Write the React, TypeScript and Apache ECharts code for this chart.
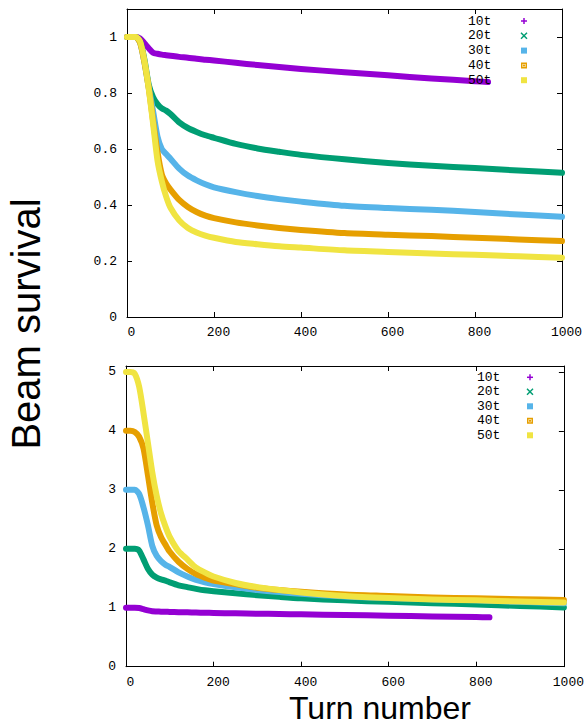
import React, { useEffect, useRef } from "react";
import * as echarts from "echarts";

const names = ["10t", "20t", "30t", "40t", "50t"];
const colors = ["#9400D3", "#009E73", "#56B4E9", "#E69F00", "#F0E442"];

const turns = [0, 10, 20, 30, 40, 50, 60, 70, 80, 90, 100, 120, 140, 160, 180, 200, 250, 300, 350, 400, 500, 600, 700, 800, 900, 1000];
const turns10t = [0, 10, 20, 30, 40, 50, 60, 70, 80, 90, 100, 120, 140, 160, 180, 200, 250, 300, 350, 400, 500, 600, 700, 800, 830];

// Top panel: normalised beam survival
const top10t = [1, 1, 1, 0.995, 0.978, 0.96, 0.944, 0.94, 0.937, 0.935, 0.933, 0.929, 0.926, 0.922, 0.919, 0.916, 0.908, 0.9, 0.893, 0.886, 0.874, 0.863, 0.852, 0.842, 0.839];
const top20t = [1, 1, 1, 0.985, 0.92, 0.83, 0.785, 0.76, 0.745, 0.737, 0.725, 0.695, 0.675, 0.661, 0.649, 0.64, 0.618, 0.602, 0.59, 0.579, 0.563, 0.55, 0.54, 0.532, 0.523, 0.515];
const top30t = [1, 1, 1, 0.98, 0.91, 0.82, 0.735, 0.645, 0.6, 0.582, 0.565, 0.53, 0.505, 0.488, 0.474, 0.463, 0.446, 0.432, 0.421, 0.412, 0.397, 0.389, 0.383, 0.375, 0.366, 0.358];
const top40t = [1, 1, 1, 0.98, 0.91, 0.818, 0.7, 0.59, 0.51, 0.477, 0.455, 0.418, 0.393, 0.375, 0.362, 0.353, 0.338, 0.327, 0.318, 0.311, 0.3, 0.294, 0.289, 0.283, 0.277, 0.271];
const top50t = [1, 1, 1, 0.985, 0.915, 0.815, 0.69, 0.56, 0.485, 0.43, 0.39, 0.345, 0.318, 0.302, 0.291, 0.283, 0.268, 0.26, 0.253, 0.248, 0.238, 0.232, 0.227, 0.222, 0.217, 0.212];

// Bottom panel: absolute beam survival
const bot10t = [1, 1, 1, 0.995, 0.975, 0.955, 0.94, 0.936, 0.933, 0.931, 0.929, 0.925, 0.922, 0.918, 0.915, 0.912, 0.905, 0.899, 0.893, 0.888, 0.877, 0.865, 0.853, 0.842, 0.837];
const bot20t = [2, 2, 2, 1.97, 1.82, 1.66, 1.56, 1.51, 1.48, 1.46, 1.43, 1.38, 1.35, 1.32, 1.295, 1.28, 1.244, 1.213, 1.185, 1.16, 1.125, 1.1, 1.077, 1.055, 1.03, 1.006];
const bot30t = [3, 3, 3, 2.93, 2.7, 2.4, 2.05, 1.88, 1.79, 1.73, 1.69, 1.6, 1.53, 1.47, 1.43, 1.4, 1.345, 1.3, 1.265, 1.236, 1.19, 1.165, 1.145, 1.125, 1.1, 1.075];
const bot40t = [4, 4, 3.98, 3.9, 3.7, 3.25, 2.78, 2.4, 2.2, 2.07, 1.95, 1.78, 1.66, 1.57, 1.51, 1.46, 1.4, 1.34, 1.3, 1.27, 1.225, 1.2, 1.175, 1.16, 1.145, 1.13];
const bot50t = [5, 5, 4.97, 4.75, 4.3, 3.8, 3.3, 2.9, 2.6, 2.38, 2.2, 1.96, 1.82, 1.68, 1.6, 1.53, 1.42, 1.35, 1.3, 1.26, 1.2, 1.165, 1.14, 1.125, 1.105, 1.09];

const xTicks = [0, 200, 400, 600, 800, 1000];
const topYTicks = [0, 0.2, 0.4, 0.6, 0.8, 1];
const botYTicks = [0, 1, 2, 3, 4, 5];

const MONO = '"Liberation Mono", "DejaVu Sans Mono", monospace';
const SANS = '"Liberation Sans", Arial, sans-serif';

function pairs(xs: number[], ys: number[]) {
  return ys.map((y, i) => [xs[i], y]);
}

export default function App() {
  const ref = useRef<HTMLDivElement>(null);
  useEffect(() => {
    if (!ref.current) return;
    const chart = echarts.init(ref.current, undefined, { renderer: "svg" });
    const axisLine = { show: true, onZero: false, lineStyle: { color: "#000", width: 1 } };
    const tick = { show: true, inside: true, length: 5, lineStyle: { color: "#000" } };
    const labelStyle = { color: "#000", fontFamily: MONO, fontSize: 13 };

    const mkX = (gi: number, pos: string, show: boolean) => ({
      type: "value",
      gridIndex: gi,
      position: pos,
      min: 0,
      max: 1000,
      interval: 200,
      axisLine,
      axisTick: tick,
      splitLine: { show: false },
      axisLabel: show
        ? { ...labelStyle, margin: 9, padding: [0, 0, 0, 9], formatter: (v: number) => (xTicks.includes(v) ? String(v) : "") }
        : { show: false },
    });
    const mkY = (gi: number, pos: string, show: boolean, max: number, interval: number, ticks: number[]) => ({
      type: "value",
      gridIndex: gi,
      position: pos,
      min: 0,
      max,
      interval,
      axisLine,
      axisTick: tick,
      splitLine: { show: false },
      axisLabel: show
        ? {
            ...labelStyle,
            margin: 10,
            showMaxLabel: false,
            formatter: (v: number) => {
              const r = Math.round(v * 10) / 10;
              return ticks.includes(r) ? String(r) : "";
            },
          }
        : { show: false },
    });

    const topData = [pairs(turns10t, top10t), pairs(turns, top20t), pairs(turns, top30t), pairs(turns, top40t), pairs(turns, top50t)];
    const botData = [pairs(turns10t, bot10t), pairs(turns, bot20t), pairs(turns, bot30t), pairs(turns, bot40t), pairs(turns, bot50t)];

    const mkSeries = (data: number[][][], axisIdx: number) =>
      data.map((d, i) => ({
        type: "line",
        name: names[i],
        xAxisIndex: axisIdx,
        yAxisIndex: axisIdx,
        data: d,
        showSymbol: false,
        symbol: "none",
        smooth: 0.25,
        color: colors[i],
        lineStyle: { color: colors[i], width: 6, cap: "round", join: "round" },
        z: 2 + i,
      }));

    const legendGraphic = (textX: number, markX: number, y0: number, step: number) => {
      const els: any[] = [];
      names.forEach((n, i) => {
        const y = y0 + i * step;
        els.push({
          type: "text",
          x: textX,
          y,
          z: 100,
          style: { text: n, font: `13px ${MONO}`, fill: "#000", textAlign: "left", textVerticalAlign: "middle" },
        });
        const c = colors[i];
        const s = 3;
        if (i === 0) {
          els.push({ type: "line", z: 100, shape: { x1: markX - s, y1: y, x2: markX + s, y2: y }, style: { stroke: c, lineWidth: 1.5 } });
          els.push({ type: "line", z: 100, shape: { x1: markX, y1: y - s, x2: markX, y2: y + s }, style: { stroke: c, lineWidth: 1.5 } });
        } else if (i === 1) {
          els.push({ type: "line", z: 100, shape: { x1: markX - s, y1: y - s, x2: markX + s, y2: y + s }, style: { stroke: c, lineWidth: 1.5 } });
          els.push({ type: "line", z: 100, shape: { x1: markX - s, y1: y + s, x2: markX + s, y2: y - s }, style: { stroke: c, lineWidth: 1.5 } });
        } else if (i === 2) {
          els.push({ type: "rect", z: 100, shape: { x: markX - s, y: y - s, width: 2 * s, height: 2 * s }, style: { fill: c } });
        } else if (i === 3) {
          els.push({ type: "rect", z: 100, shape: { x: markX - s + 0.75, y: y - s + 0.75, width: 2 * s - 1.5, height: 2 * s - 1.5 }, style: { fill: "none", stroke: c, lineWidth: 1.5 } });
          els.push({ type: "rect", z: 100, shape: { x: markX - 1, y: y - 1, width: 2, height: 2 }, style: { fill: c } });
        } else {
          els.push({ type: "rect", z: 100, shape: { x: markX - s, y: y - s, width: 2 * s, height: 2 * s }, style: { fill: c } });
        }
      });
      return els;
    };

    chart.setOption({
      animation: false,
      backgroundColor: "#fff",
      grid: [
        { left: 127, right: 25, top: 9, height: 308, containLabel: false },
        { left: 126, right: 19.5, top: 366, height: 300.7, containLabel: false },
      ],
      xAxis: [mkX(0, "bottom", true), mkX(0, "top", false), mkX(1, "bottom", true), mkX(1, "top", false)],
      yAxis: [
        mkY(0, "left", true, 1.1, 0.2, topYTicks),
        mkY(0, "right", false, 1.1, 0.2, topYTicks),
        mkY(1, "left", true, 5.1, 1, botYTicks),
        mkY(1, "right", false, 5.1, 1, botYTicks),
      ],
      series: [...mkSeries(topData, 0), ...mkSeries(botData, 2)],
      graphic: [
        ...legendGraphic(468, 524, 21, 14.8),
        ...legendGraphic(477, 530, 377.3, 14.5),
        {
          type: "text",
          x: 26,
          y: 324,
          rotation: Math.PI / 2,
          style: { text: "Beam survival", font: `40px ${SANS}`, fill: "#000", textAlign: "center", textVerticalAlign: "middle" },
        },
        {
          type: "text",
          x: 380,
          y: 708,
          style: { text: "Turn number", font: `32px ${SANS}`, fill: "#000", textAlign: "center", textVerticalAlign: "middle" },
        },
      ],
    });
    return () => chart.dispose();
  }, []);
  return <div ref={ref} style={{ position: "absolute", left: 0, top: 0, width: 587, height: 725 }} />;
}
